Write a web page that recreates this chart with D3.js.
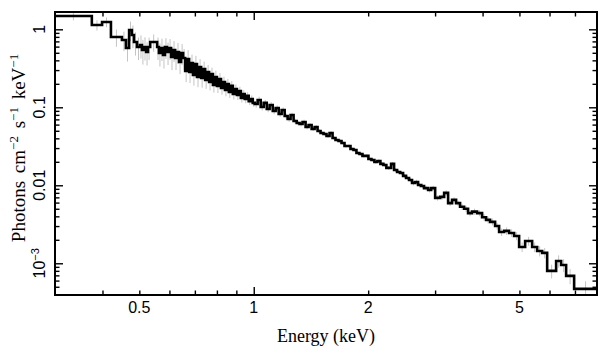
<!DOCTYPE html>
<html><head><meta charset="utf-8">
<script src="https://cdn.jsdelivr.net/npm/d3@7"></script>
<style>body{margin:0;background:#fff}svg{display:block}</style>
</head><body><svg id="c" width="608" height="357"></svg>
<script>
// Energy bin edges (keV)
const binEdges = [
 0.300,0.375,0.399,0.421,0.450,0.461,0.470,0.478,0.484,0.493,0.502,0.508,0.514,0.521,0.527,0.534,0.557,0.563,0.570,0.577,0.584,0.591,0.599,0.606,0.613,0.621,0.628,0.636,0.644,
 0.652,0.660,0.668,0.676,0.684,0.692,0.700,0.709,0.718,0.727,0.736,0.745,0.754,0.763,0.772,0.781,0.790,0.800,0.810,0.820,0.830,0.840,0.850,0.860,0.870,0.881,0.892,0.903,0.914,0.925,0.936,0.947,0.958,0.970,0.982,0.994,
 1.006,1.024,1.043,1.062,1.082,1.101,1.122,1.142,1.163,1.184,1.206,1.228,1.250,1.273,1.297,1.320,1.344,1.369,1.394,1.420,1.446,1.472,1.499,1.526,1.554,1.583,1.612,1.641,1.671,1.702,1.733,1.765,1.797,1.830,1.863,1.897,1.932,1.967,2.003,2.040,2.077,2.115,2.154,2.193,
 2.233,2.298,2.340,2.383,2.427,2.471,2.516,2.562,2.609,2.657,2.706,2.756,2.806,2.876,2.929,3.001,3.093,3.169,3.246,3.325,3.407,3.490,3.576,3.663,3.753,3.869,3.988,4.086,4.186,4.315,4.421,4.557,4.697,4.842,4.991,5.176,5.401,5.567,5.738,5.915,6.245,6.437,6.635,6.965,8.0
];
// Unfolded flux per bin (photons cm^-2 s^-1 keV^-1)
const flux = [
 1.48,1.135,1.24,0.797,0.729,0.576,0.98,0.845,0.687,0.593,0.629,0.543,0.593,0.512,0.593,0.687,0.593,0.497,0.576,0.468,0.593,0.512,0.576,0.441,0.543,0.429,0.512,0.381,0.497,
 0.429,0.292,0.416,0.284,0.370,0.260,0.359,0.245,0.329,0.238,0.310,0.224,0.284,0.211,0.267,0.193,0.245,0.188,0.231,0.177,0.211,0.167,0.199,0.157,0.188,0.148,0.172,0.144,0.162,0.132,0.148,0.128,0.140,0.120,0.128,0.114,
 0.110,0.124,0.101,0.114,0.0951,0.107,0.0896,0.0979,0.082,0.0923,0.0773,0.0708,0.0796,0.0667,0.0629,0.0611,0.0648,0.0559,0.0593,0.0527,0.0559,0.0497,0.0468,0.0455,0.0429,0.0468,0.0404,0.0381,0.0370,0.0348,0.0319,0.0319,0.0292,0.0284,0.0260,0.0252,0.0238,0.0238,0.0217,0.0211,0.0199,0.0205,0.0188,0.0182,
 0.0167,0.0188,0.0157,0.0148,0.0144,0.0132,0.0124,0.0117,0.0107,0.0110,0.0101,0.0098,0.0092,0.0087,0.0092,0.0069,0.0071,0.0080,0.0059,0.0065,0.0059,0.0053,0.0050,0.0044,0.0046,0.0044,0.0039,0.0036,0.0034,0.0030,0.00252,0.00260,0.00245,0.00224,0.00162,0.00193,0.00162,0.00144,0.00136,0.00080,0.00107,0.00095,0.00069,0.00047
];
// Relative 1-sigma error per bin
const fluxErr = [
 0.12,0.15,0.14,0.25,0.28,0.33,0.28,0.32,0.33,0.32,0.33,0.35,0.33,0.33,0.32,0.25,0.32,0.33,0.32,0.33,0.30,0.32,0.30,0.32,0.30,0.30,0.30,0.30,0.30,
 0.30,0.28,0.30,0.28,0.28,0.27,0.27,0.26,0.26,0.25,0.24,0.23,0.23,0.22,0.21,0.20,0.20,0.19,0.19,0.18,0.17,0.17,0.16,0.16,0.15,0.15,0.14,0.14,0.13,0.13,0.12,0.12,0.12,0.11,0.11,0.11,
 0.10,0.10,0.10,0.09,0.09,0.09,0.09,0.08,0.08,0.08,0.08,0.08,0.07,0.07,0.07,0.07,0.07,0.07,0.06,0.06,0.06,0.06,0.06,0.06,0.06,0.06,0.06,0.05,0.06,0.05,0.05,0.05,0.05,0.05,0.05,0.05,0.05,0.05,0.05,0.05,0.05,0.05,0.05,0.06,
 0.06,0.06,0.06,0.06,0.06,0.06,0.06,0.06,0.07,0.07,0.07,0.07,0.07,0.07,0.07,0.08,0.08,0.08,0.08,0.08,0.08,0.09,0.09,0.09,0.09,0.09,0.10,0.10,0.10,0.10,0.11,0.11,0.11,0.12,0.14,0.13,0.14,0.15,0.15,0.20,0.18,0.19,0.22,0.25
];
const xDomain = [0.3, 8];
const yDomain = [3.92e-4, 1.667];
const xLabeled = [0.5, 1, 2, 5];
const xMinor = [0.4,0.5,0.6,0.7,0.8,0.9,2,3,4,5,6,7];
const xMajor = [1];
const yMajor = [1e-3, 1e-2, 1e-1, 1];
const yLabels = [["1",1],["0.1",0.1],["0.01",0.01]];

const L=55, R=597, T=12, B=295;
const svg = d3.select("#c");
const x = d3.scaleLog().domain(xDomain).range([L,R]);
const y = d3.scaleLog().domain(yDomain).range([B,T]);

const yMinor = [];
for (let d=-4; d<=0; d++) for (let m=2; m<=9; m++) { const v=m*Math.pow(10,d); if (v>=yDomain[0]&&v<=yDomain[1]) yMinor.push(v); }

svg.append("defs").append("clipPath").attr("id","clip").append("rect").attr("x",L).attr("y",T).attr("width",R-L).attr("height",B-T);
const plot = svg.append("g").attr("clip-path","url(#clip)");

const bins = flux.map((f,i)=>({lo:binEdges[i],hi:binEdges[i+1],f,e:fluxErr[i]}));
plot.selectAll("line.err").data(bins).join("line").attr("class","err")
  .attr("x1",d=>x(Math.sqrt(d.lo*d.hi))).attr("x2",d=>x(Math.sqrt(d.lo*d.hi)))
  .attr("y1",d=>y(d.f*(1+d.e))).attr("y2",d=>y(d.f*(1-d.e)))
  .attr("stroke","#c4c4c4").attr("stroke-width",1);

const pts = bins.map(d=>[d.lo,d.f]); pts.push([binEdges[binEdges.length-1], flux[flux.length-1]]);
plot.append("path").datum(pts)
  .attr("d", d3.line().x(d=>x(d[0])).y(d=>y(d[1])).curve(d3.curveStepAfter))
  .attr("fill","none").attr("stroke","#000").attr("stroke-width",2.6).attr("stroke-linejoin","miter");

// axes (ticks inward, mirrored)
function ax(gen, tr){ const g=svg.append("g").attr("transform",tr).call(gen); g.select(".domain").remove(); g.selectAll("line").attr("stroke","#000").attr("stroke-width",1.4); g.selectAll("text").remove(); return g; }
ax(d3.axisBottom(x).tickValues(xMinor).tickSize(-4.5), `translate(0,${B})`);
ax(d3.axisBottom(x).tickValues(xMajor).tickSize(-8), `translate(0,${B})`);
ax(d3.axisTop(x).tickValues(xMinor).tickSize(-4.5), `translate(0,${T})`);
ax(d3.axisTop(x).tickValues(xMajor).tickSize(-8), `translate(0,${T})`);
ax(d3.axisLeft(y).tickValues(yMinor).tickSize(-4.5), `translate(${L},0)`);
ax(d3.axisLeft(y).tickValues(yMajor).tickSize(-8), `translate(${L},0)`);
ax(d3.axisRight(y).tickValues(yMinor).tickSize(-4.5), `translate(${R},0)`);
ax(d3.axisRight(y).tickValues(yMajor).tickSize(-8), `translate(${R},0)`);

svg.append("rect").attr("x",L).attr("y",T).attr("width",R-L).attr("height",B-T)
  .attr("fill","none").attr("stroke","#000").attr("stroke-width",2);

const sans = "'Liberation Sans', Arial, sans-serif";
const serif = "'Liberation Serif', 'Times New Roman', serif";
svg.selectAll("text.xt").data(xLabeled).join("text").attr("class","xt")
  .attr("x",d=>x(d)).attr("y",313).attr("text-anchor","middle")
  .attr("font-family",sans).attr("font-size",16).text(d=>String(d));

yLabels.forEach(([t,v])=>{
  svg.append("text").attr("transform",`translate(45,${y(v)}) rotate(-90)`)
    .attr("text-anchor","middle").attr("font-family",sans).attr("font-size",16).text(t);
});
const t3 = svg.append("text").attr("transform",`translate(45,${y(1e-3)}) rotate(-90)`)
  .attr("text-anchor","middle").attr("font-family",sans).attr("font-size",16);
t3.append("tspan").text("10");
t3.append("tspan").attr("dy",-6).attr("font-size",11).text("−3");

svg.append("text").attr("x",326).attr("y",342).attr("text-anchor","middle")
  .attr("font-family",serif).attr("font-size",18).text("Energy (keV)");

const yl = svg.append("text").attr("transform",`translate(25,148) rotate(-90)`)
  .attr("text-anchor","middle").attr("font-family",serif).attr("font-size",19)
  .attr("word-spacing",3);
yl.append("tspan").text("Photons cm");
yl.append("tspan").attr("dy",-7).attr("font-size",13).text("−2");
yl.append("tspan").attr("dy",7).text(" s");
yl.append("tspan").attr("dy",-7).attr("font-size",13).text("−1");
yl.append("tspan").attr("dy",7).text(" keV");
yl.append("tspan").attr("dy",-7).attr("font-size",13).text("−1");
</script></body></html>
